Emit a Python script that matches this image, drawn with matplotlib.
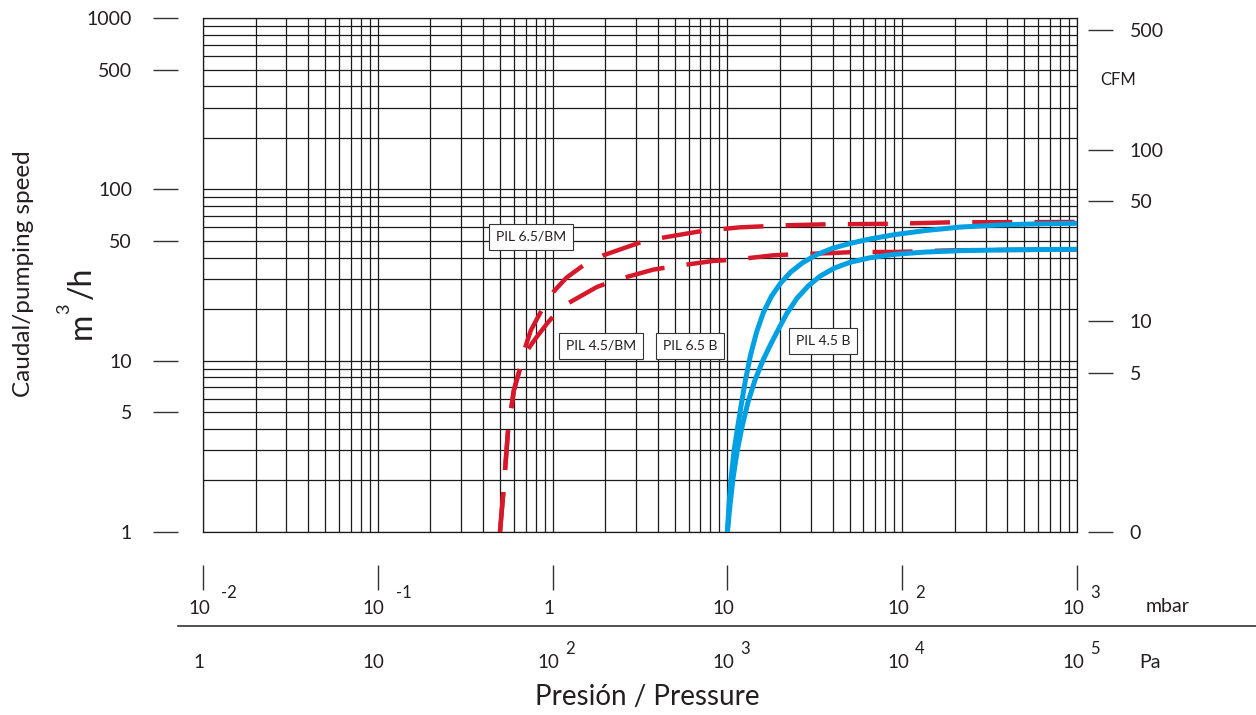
import numpy as np
import matplotlib
matplotlib.use("Agg")
import matplotlib.pyplot as plt
from matplotlib.ticker import LogLocator, FixedLocator, FixedFormatter, NullLocator, NullFormatter

# ---- data ----
# pressure in mbar, pumping speed in m3/h
p_65bm = [0.5, 0.522, 0.556, 0.6, 0.651, 0.679, 0.75, 0.866, 1.01, 1.2, 1.5, 1.95, 3.23, 4.3, 7.13,
          11.8, 16.4, 21.8, 37, 85, 192, 1000]
s_65bm = [1, 1.68, 3.9, 6.7, 9.0, 11.0, 15, 19.7, 25.2, 30.5, 36, 41.2, 49.3, 52.3, 57.1,
          60, 60.9, 61.7, 62.5, 62.9, 64.2, 64.5]

p_45bm = [0.5, 0.522, 0.556, 0.6, 0.651, 0.695, 0.8, 0.944, 1.127, 1.79, 2.28, 3.77, 5.01, 8.3,
          11.05, 18.3, 24.4, 40.4, 53.7, 91, 200, 1000]
s_45bm = [1, 1.68, 3.9, 6.7, 9.0, 11.0, 13.5, 16.8, 20.6, 26.9, 29.5, 34, 35.6, 38.2,
          38.9, 41.2, 41.8, 42.5, 43.1, 43.1, 44.1, 44.5]

p_65b = [10, 10.21, 10.49, 10.91, 11.5, 12.04, 12.69, 13.56, 14.68, 16.09, 17.88, 20.13, 22.96,
         26.9, 32.34, 39.95, 50.6, 65.4, 90.9, 135, 214, 363, 614, 1000]
s_65b = [1, 1.44, 2.06, 2.97, 4.21, 5.65, 7.7, 10.77, 14.66, 19.18, 23.78, 28.31, 32.81,
         37.27, 41.51, 45.29, 48.43, 51.31, 54.43, 57.44, 60.21, 62.0, 62.93, 63.35]

p_45b = [10, 10.35, 10.77, 11.35, 12.12, 13.12, 14.38, 15.99, 17.76, 19.73, 21.93, 25.01, 28.92,
         33.86, 40.72, 50.3, 65.4, 90.9, 135, 214, 414, 1000]
s_45b = [1, 1.44, 2.06, 2.93, 4.1, 5.73, 7.7, 10.07, 12.57, 15.47, 18.92, 23.14, 27.2,
         31.1, 34.63, 37.52, 39.86, 41.78, 43.03, 43.85, 44.38, 44.68]

y_ticks = [1, 5, 10, 50, 100, 500, 1000]
cfm_ticks = [5, 10, 50, 100, 500]
CFM_PER_M3H = 0.5886

mbar_labels = [("10", "-2"), ("10", "-1"), ("1", ""), ("10", ""), ("10", "2"), ("10", "3")]
pa_labels = [("1", ""), ("10", ""), ("10", "2"), ("10", "3"), ("10", "4"), ("10", "5")]
decades = [0.01, 0.1, 1, 10, 100, 1000]

# label boxes: text, pressure, speed
labels = [("PIL 6.5/BM", 0.75, 53), ("PIL 4.5/BM", 1.89, 12.2),
          ("PIL 6.5 B", 6.1, 12.2), ("PIL 4.5 B", 35.2, 13)]

RED = "#d7182a"
BLUE = "#00a0e3"
INK = "#231f20"

plt.rcParams["font.family"] = ["Lato", "DejaVu Sans"]
plt.rcParams["text.color"] = INK

fig = plt.figure(figsize=(12.56, 7.15), dpi=100)
W, H = 1256, 715
ax = fig.add_axes([203 / W, (H - 532) / H, 874 / W, 514 / H])
ax.set_xscale("log")
ax.set_yscale("log")
ax.set_xlim(0.01, 1000)
ax.set_ylim(1, 1000)
for axis in (ax.xaxis, ax.yaxis):
    axis.set_major_locator(LogLocator(base=10, numticks=20))
    axis.set_minor_locator(LogLocator(base=10, subs=np.arange(2, 10), numticks=100))
ax.grid(which="both", color="#1a1a1a", lw=0.9)
ax.tick_params(which="both", length=0, labelbottom=False, labelleft=False)
for s in ax.spines.values():
    s.set_color("#1a1a1a")
    s.set_linewidth(0.9)

# curves
ax.plot(p_65bm, s_65bm, color=RED, lw=3.2, dashes=(9, 5), dash_capstyle="butt", zorder=3)
ax.plot(p_45bm, s_45bm, color=RED, lw=3.2, dashes=(9, 5), dash_capstyle="butt", zorder=3)
ax.plot(p_65b, s_65b, color=BLUE, lw=3.6, solid_joinstyle="round", zorder=4)
ax.plot(p_45b, s_45b, color=BLUE, lw=3.6, solid_joinstyle="round", zorder=4)

for txt, px, py in labels:
    ax.text(px, py, txt, fontsize=10, ha="center", va="center", zorder=5,
            bbox=dict(boxstyle="square,pad=0.5", fc="white", ec="#333333", lw=0.8))

# left axis ticks (detached from the grid)
secl = ax.secondary_yaxis(-25 / 874)
secl.yaxis.set_major_locator(FixedLocator(y_ticks))
secl.yaxis.set_major_formatter(FixedFormatter([str(v) for v in y_ticks]))
secl.yaxis.set_minor_locator(NullLocator())
secl.tick_params(length=18, width=1, pad=15, labelsize=14, color="#333333", labelcolor=INK)
for s in secl.spines.values():
    s.set_visible(False)

# right axis in CFM
secr = ax.secondary_yaxis(1 + 11 / 874)
secr.yaxis.set_major_locator(FixedLocator([1] + [c / CFM_PER_M3H for c in cfm_ticks]))
secr.yaxis.set_major_formatter(FixedFormatter(["0"] + [str(c) for c in cfm_ticks]))
secr.yaxis.set_minor_locator(NullLocator())
secr.tick_params(length=18, width=1, pad=12, labelsize=14, color="#333333", labelcolor=INK)
for s in secr.spines.values():
    s.set_visible(False)
fig.text(1118 / W, 1 - 80 / H, "CFM", fontsize=12, ha="center", va="center")

# bottom ticks
secb = ax.secondary_xaxis(-33 / 514)
secb.xaxis.set_major_locator(FixedLocator(decades))
secb.xaxis.set_major_formatter(NullFormatter())
secb.xaxis.set_minor_locator(NullLocator())
secb.tick_params(length=18, width=1, color="#333333")
for s in secb.spines.values():
    s.set_visible(False)


def power_label(x, base, exp, dy_base, dy_exp):
    ax.annotate(base, xy=(x, 0), xycoords=("data", "axes fraction"), xytext=(-4, dy_base),
                textcoords="offset pixels", ha="center", va="center", fontsize=13.5, annotation_clip=False)
    if exp:
        dx = 22 if exp.startswith("-") else 17
        ax.annotate(exp, xy=(x, 0), xycoords=("data", "axes fraction"), xytext=(-4 + dx, dy_exp),
                    textcoords="offset pixels", ha="left", va="center", fontsize=12, annotation_clip=False)


for x, (b, e) in zip(decades, mbar_labels):
    power_label(x, b, e, -76, -61)
for x, (b, e) in zip(decades, pa_labels):
    power_label(x, b, e, -131, -117)

fig.text(1168 / W, 1 - 607 / H, "mbar", fontsize=14, ha="center", va="center")
fig.text(1150 / W, 1 - 663 / H, "Pa", fontsize=14, ha="center", va="center")
fig.add_artist(plt.Line2D([178 / W, 1.0], [1 - 626 / H, 1 - 626 / H], color="#333333", lw=1.2))

fig.text(647 / W, 1 - 697 / H, "Presión / Pressure", fontsize=20, ha="center", va="center")
fig.text(24 / W, 1 - 274 / H, "Caudal/pumping speed", fontsize=17.5, rotation=90, ha="center", va="center")
fig.text(82 / W, 1 - 326 / H, "m", fontsize=23, rotation=90, ha="center", va="center")
fig.text(64 / W, 1 - 309 / H, "3", fontsize=13, rotation=90, ha="center", va="center")
fig.text(82 / W, 1 - 283 / H, "/h", fontsize=23, rotation=90, ha="center", va="center")

fig.savefig("out.png", dpi=100)
